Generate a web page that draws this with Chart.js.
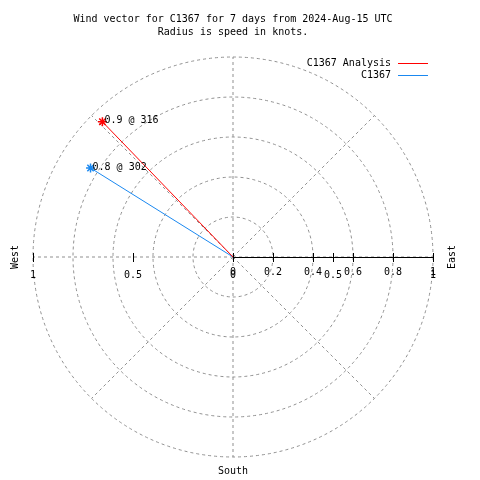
<!DOCTYPE html>
<html>
<head>
<meta charset="utf-8">
<script src="https://cdn.jsdelivr.net/npm/chart.js@4/dist/chart.umd.min.js"></script>
<style>
  html, body { margin: 0; padding: 0; background: #fff; }
  canvas { display: block; }
</style>
</head>
<body>
<canvas id="windChart" width="480" height="480"></canvas>
<script>
// wind data (speed in knots, direction in degrees)
const seriesNames = ["C1367 Analysis", "C1367"];
const speeds = [0.94, 0.84];
const directions = [316, 302];

// polar grid + ticks
const ringValues = [0.2, 0.4, 0.6, 0.8, 1];
const spokeAngles = [0, 45, 90, 135, 180, 225, 270, 315];
const xTickValues = [0, 0.2, 0.4, 0.6, 0.8, 1];
const xTickLabels = ["0", "0.2", "0.4", "0.6", "0.8", "1"];
const rTickValues = [-1, -0.5, 0, 0.5, 1];
const rTickLabels = ["1", "0.5", "0", "0.5", "1"];

const titleLines = ["Wind vector for C1367 for 7 days from 2024-Aug-15 UTC", "Radius is speed in knots."];

const colors = ["#ff0000", "#1a88f0"];
const mono = "'DejaVu Sans Mono', 'Liberation Mono', monospace";

// bearing -> x/y (north up, east right)
function toXY(r, deg) {
  let a = deg * Math.PI / 180;
  return { x: r * Math.sin(a), y: r * Math.cos(a) };
}

let datasets = seriesNames.map((name, i) => {
  let end = toXY(speeds[i], directions[i]);
  return {
    label: name,
    data: [{ x: 0, y: 0 }, end],
    showLine: true,
    borderColor: colors[i],
    borderWidth: 1,
    pointRadius: [0, 4.5],
    pointStyle: "star",
    pointBorderColor: colors[i],
    pointBorderWidth: 1.5,
    clip: false
  };
});

const polarGrid = {
  id: "polarGrid",
  beforeDatasetsDraw(chart) {
    let ctx = chart.ctx;
    let xs = chart.scales.x, ys = chart.scales.y;
    let cx = xs.getPixelForValue(0), cy = ys.getPixelForValue(0);
    ctx.save();
    ctx.strokeStyle = "#909090";
    ctx.lineWidth = 1;
    ctx.setLineDash([3, 3]);
    ringValues.forEach(r => {
      let rad = xs.getPixelForValue(r) - cx;
      ctx.beginPath();
      ctx.arc(cx, cy, rad, 0, Math.PI * 2);
      ctx.stroke();
    });
    spokeAngles.forEach(a => {
      let p = toXY(1, a);
      ctx.beginPath();
      ctx.moveTo(cx, cy);
      ctx.lineTo(xs.getPixelForValue(p.x), ys.getPixelForValue(p.y));
      ctx.stroke();
    });
    ctx.setLineDash([]);

    // solid axis on the east side
    ctx.strokeStyle = "#000";
    ctx.beginPath();
    ctx.moveTo(cx, cy + 0.5);
    ctx.lineTo(xs.getPixelForValue(1), cy + 0.5);
    ctx.stroke();
    ctx.beginPath();
    xTickValues.forEach(v => {
      let px = Math.round(xs.getPixelForValue(v)) + 0.5;
      ctx.moveTo(px, cy - 4);
      ctx.lineTo(px, cy + 5);
    });
    rTickValues.forEach(v => {
      if (v === 0) return;
      let px = Math.round(xs.getPixelForValue(v)) + 0.5;
      ctx.moveTo(px, cy - 4);
      ctx.lineTo(px, cy + 5);
    });
    ctx.stroke();
    ctx.restore();
  },
  afterDatasetsDraw(chart) {
    let ctx = chart.ctx;
    let xs = chart.scales.x, ys = chart.scales.y;
    let cx = xs.getPixelForValue(0), cy = ys.getPixelForValue(0);
    ctx.save();
    ctx.fillStyle = "#000";
    ctx.font = "10px " + mono;
    ctx.textAlign = "center";
    ctx.textBaseline = "middle";
    xTickValues.forEach((v, i) => {
      ctx.fillText(xTickLabels[i], xs.getPixelForValue(v), cy + 15);
    });
    rTickValues.forEach((v, i) => {
      ctx.fillText(rTickLabels[i], xs.getPixelForValue(v), cy + 18);
    });

    // compass words
    ctx.fillText("South", cx, ys.getPixelForValue(-1) + 14);
    ctx.save();
    ctx.translate(xs.getPixelForValue(-1) - 18, cy);
    ctx.rotate(-Math.PI / 2);
    ctx.fillText("West", 0, 0);
    ctx.restore();
    ctx.save();
    ctx.translate(xs.getPixelForValue(1) + 19, cy);
    ctx.rotate(-Math.PI / 2);
    ctx.fillText("East", 0, 0);
    ctx.restore();

    // value labels next to markers
    ctx.textAlign = "left";
    speeds.forEach((s, i) => {
      let p = toXY(s, directions[i]);
      ctx.fillText(s.toFixed(1) + " @ " + directions[i], xs.getPixelForValue(p.x) + 2, ys.getPixelForValue(p.y) - 1);
    });

    // legend (text then line sample)
    ctx.textAlign = "right";
    seriesNames.forEach((name, i) => {
      let y = 63 + i * 12;
      ctx.fillStyle = "#000";
      ctx.fillText(name, 391, y);
      ctx.fillStyle = colors[i];
      ctx.fillRect(398, y, 30, 1);
    });
    ctx.restore();
  }
};

new Chart(document.getElementById("windChart"), {
  type: "scatter",
  data: { datasets: datasets },
  options: {
    responsive: false,
    animation: false,
    devicePixelRatio: 1,
    layout: { padding: { left: 33, right: 47, top: 0, bottom: 23 } },
    scales: {
      x: { type: "linear", min: -1, max: 1, display: false },
      y: { type: "linear", min: -1, max: 1, display: false }
    },
    plugins: {
      legend: { display: false },
      tooltip: { enabled: false },
      title: {
        display: true,
        text: titleLines,
        color: "#000",
        font: { family: mono, size: 10, weight: "normal", lineHeight: 1.3 },
        padding: { top: 13, bottom: 18 }
      }
    }
  },
  plugins: [polarGrid]
});
</script>
</body>
</html>
